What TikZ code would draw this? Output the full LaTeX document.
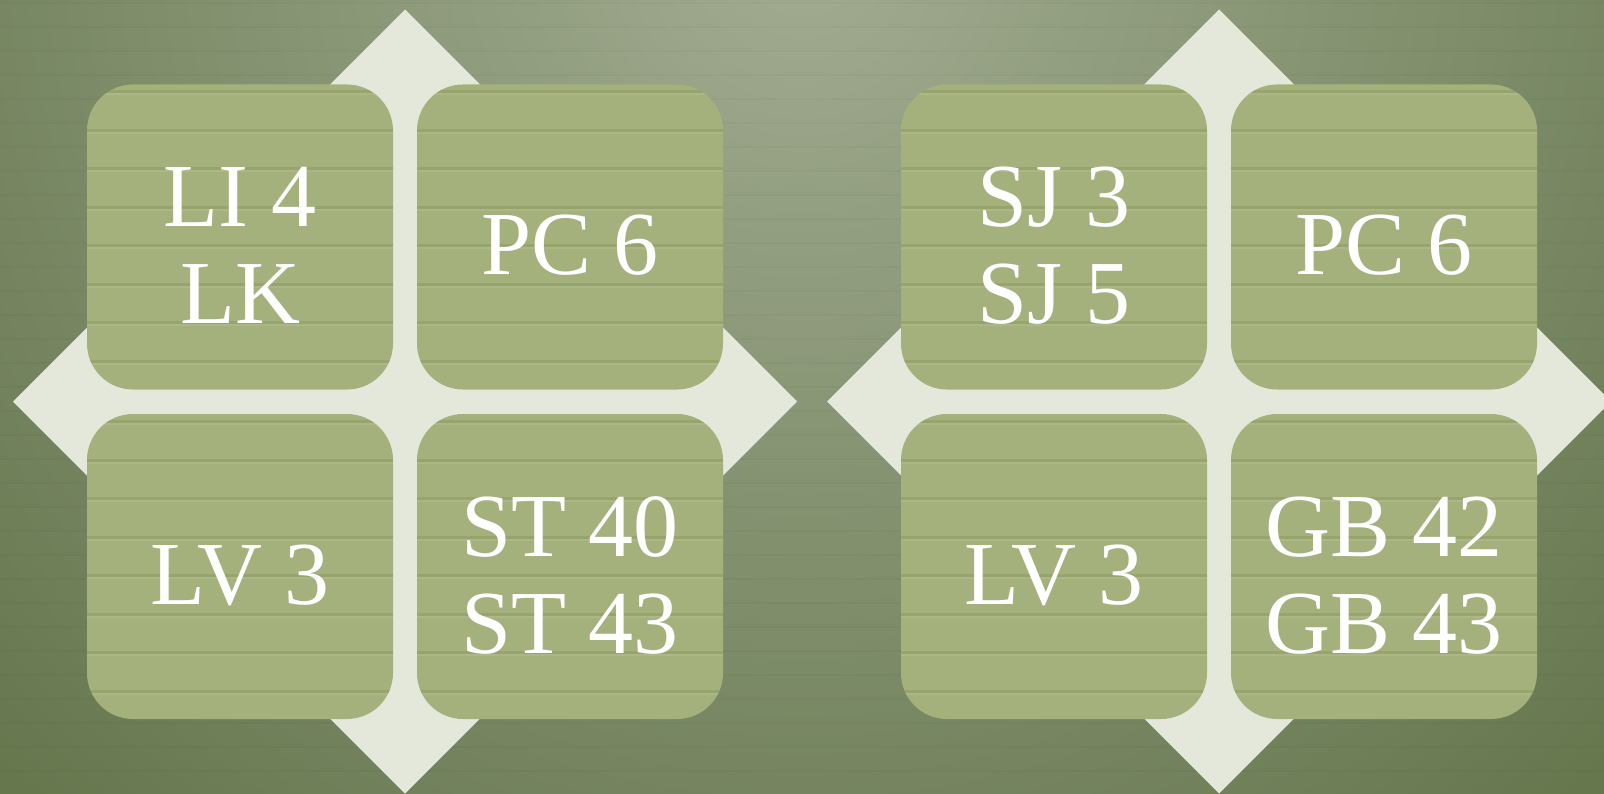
\documentclass[tikz,border=0pt]{standalone}
\usepackage{fontspec}
\setmainfont{Liberation Serif}
\usetikzlibrary{shapes, positioning}

\definecolor{cream}{HTML}{E4E8DA}
\definecolor{tile}{HTML}{A4B17D}
\definecolor{tileline}{HTML}{7F914F}
\definecolor{tilelight}{HTML}{BCC69E}
\definecolor{bginner}{HTML}{A2AC92}
\definecolor{bgouter}{HTML}{66774E}

\begin{document}
\begin{tikzpicture}[x=1pt, y=-1pt,
    tilebox/.style={rectangle, rounded corners=46pt, minimum width=306pt, minimum height=305pt,
        fill=tile, text=white, align=center, font=\fontsize{90}{97}\selectfont,
        text height=76pt, text depth=0pt,
        path picture={
            \foreach \k in {0,...,7} {
                \fill[sharp corners, tileline, opacity=0.35] ([yshift=-6pt-\k*38.5pt]path picture bounding box.north west)
                    rectangle ([yshift=-9pt-\k*38.5pt]path picture bounding box.north east);
                \fill[sharp corners, tilelight, opacity=0.3] ([yshift=-9pt-\k*38.5pt]path picture bounding box.north west)
                    rectangle ([yshift=-11pt-\k*38.5pt]path picture bounding box.north east);
            }
        }},
    twoline/.style={text height=173pt}]
        \useasboundingbox (0,0) rectangle (1604,794);
        \clip (0,0) rectangle (1604,794);

        % background
        \fill[bgouter] (0,0) rectangle (1604,794);
        \shade[inner color=bginner, outer color=bgouter] (802,-60) circle (1150);
        \foreach \y in {3,27,...,795}
            \draw[black, opacity=0.025, line width=1.5pt] (0,\y) -- (1604,\y);

        % four-way arrows
        \foreach \cx in {405,1219}
            \fill[cream] (\cx,9.5) -- (\cx+150,159.5) -- (\cx+242,251.5) -- (\cx+392,401.5)
                -- (\cx+242,551.5) -- (\cx+150,643.5) -- (\cx,793.5) -- (\cx-150,643.5)
                -- (\cx-242,551.5) -- (\cx-392,401.5) -- (\cx-242,251.5) -- (\cx-150,159.5) -- cycle;

        % left group
        \node[tilebox, twoline] (a) at (240,237) {LI 4\\LK};
        \node[tilebox] (b) at (570,237) {PC 6};
        \node[tilebox] (c) at (240,566.5) {LV 3};
        \node[tilebox, twoline] (d) at (570,566.5) {ST 40\\ST 43};

        % right group
        \node[tilebox, twoline] (e) at (1054,237) {SJ 3\\SJ 5};
        \node[tilebox] (f) at (1384,237) {PC 6};
        \node[tilebox] (g) at (1054,566.5) {LV 3};
        \node[tilebox, twoline] (h) at (1384,566.5) {GB 42\\GB 43};
    \end{tikzpicture}
\end{document}
